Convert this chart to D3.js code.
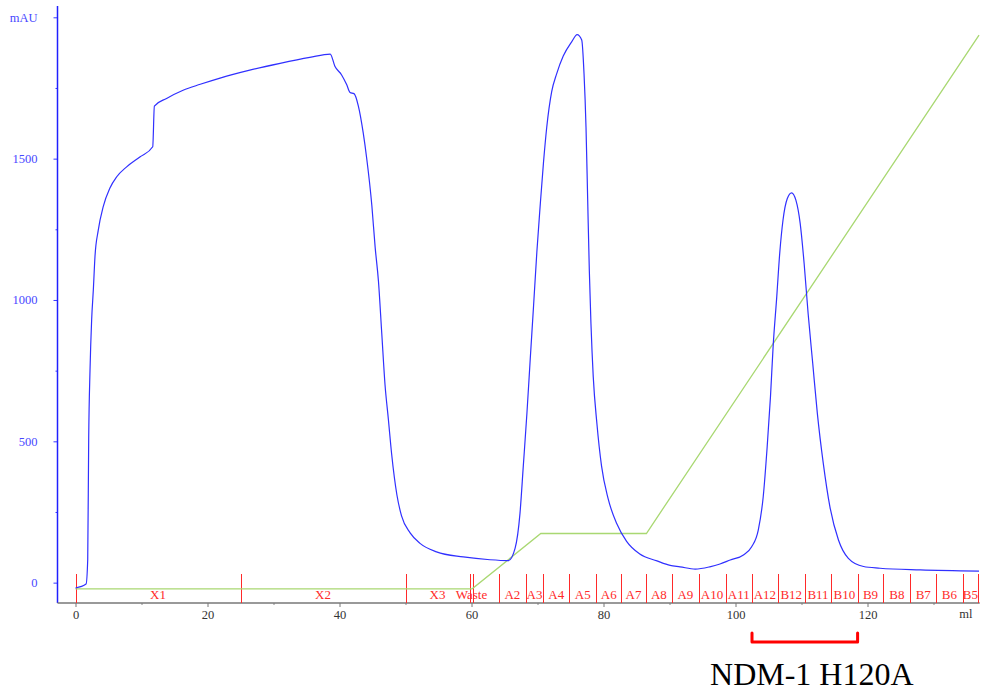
<!DOCTYPE html>
<html>
<head>
<meta charset="utf-8">
<script src="https://cdn.jsdelivr.net/npm/d3@7"></script>
<style>
  html, body { margin: 0; padding: 0; background: #fff; }
  svg { display: block; }
  svg text { font-family: "Liberation Serif", "Times New Roman", serif; }
</style>
</head>
<body>
<div id="chart"></div>
<script>
// UV 280 trace (ml, mAU)
const uvVolume = [0, 1.6, 1.85, 2.0, 2.2, 2.45, 2.7, 2.95, 3.45, 4.2, 5.2, 6.25, 7.75, 9.75, 11.7, 11.95,
  13.8, 16.3, 18.9, 21.9, 26.4, 31.0, 35.5, 38.6, 39.3, 40.3, 41.1, 41.6, 42.2, 42.85, 43.6, 44.1, 44.9,
  45.4, 45.9, 46.4, 46.9, 47.4, 47.9, 48.7, 49.4, 50.7, 52.2, 54.7, 58.75, 62.8, 65.6, 66.6, 67.35, 67.85,
  68.4, 68.9, 69.4, 69.9, 70.4, 70.9, 71.4, 72.15, 72.9, 73.9, 75.2, 76.0, 76.7, 77.05, 77.35, 77.6, 77.85,
  78.1, 78.45, 79.0, 79.7, 80.7, 82.0, 83.5, 85.5, 88.1, 90.1, 91.6, 93.9, 96.1, 97.65, 99.2, 101.2, 102.45,
  103.45, 104.2, 104.8, 105.3, 105.7, 106.25, 106.7, 107.2, 107.85, 108.5, 109.15, 109.8, 110.4, 111.0,
  111.7, 112.4, 113.3, 114.3, 115.6, 117.1, 119.4, 121.9, 128, 136.9]
const uvAbsorbance = [-19, -5, 80, 512, 752, 932, 1035, 1153, 1247, 1330, 1395, 1436, 1471, 1506, 1542, 1686,
  1713, 1742, 1763, 1785, 1813, 1837, 1858, 1870, 1827, 1797, 1761, 1734, 1730, 1687, 1590, 1505, 1334,
  1187, 1067, 883, 699, 579, 455, 310, 236, 176, 139, 109, 91, 81, 78, 121, 246, 413,
  600, 791, 978, 1169, 1332, 1484, 1611, 1737, 1800, 1863, 1914, 1939, 1920, 1800, 1611, 1358, 1106,
  916, 727, 563, 413, 297, 209, 146, 101, 77, 61, 56, 48, 56, 66, 80, 98, 127,
  186, 304, 481, 658, 835, 1011, 1165, 1283, 1359, 1379, 1353, 1271, 1129, 953,
  776, 599, 422, 269, 151, 86, 57, 51, 45, 41]

// gradient (%B)
const gradVolume = [0, 60.1, 70.5, 86.5, 136.9]
const gradPercentB = [0, 0, 10, 10, 100]

// fractions
const fractionBounds = [0, 25, 50, 59.7, 60.3, 64.2, 68.2, 70.9, 74.8, 78.9, 82.7, 86.4, 90.4, 94.4, 98.5,
  102.5, 106.4, 110.5, 114.5, 118.5, 122.4, 126.5, 130.4, 134.4, 136.8]
const fractionLabels = ['X1', 'X2', 'X3', 'Waste', '', 'A2', 'A3', 'A4', 'A5', 'A6', 'A7', 'A8', 'A9', 'A10',
  'A11', 'A12', 'B12', 'B11', 'B10', 'B9', 'B8', 'B7', 'B6', 'B5']

const xTicks = [0, 20, 40, 60, 80, 100, 120]
const xMinorTicks = [10, 30, 50, 70, 90, 110, 130]
const yTicks = [0, 500, 1000, 1500, 2000]
const yMinorTicks = [250, 750, 1250, 1750]

const bracketRange = [102.5, 118.5]
const bracketLabel = 'NDM-1 H120A'

const width = 994, height = 694
const serif = '"Liberation Serif", "Times New Roman", serif'

const svg = d3.select('#chart').append('svg')
  .attr('width', width)
  .attr('height', height)
  .attr('viewBox', `0 0 ${width} ${height}`)

const x = d3.scaleLinear().domain([0, 137]).range([75.5, 979.7])
const y = d3.scaleLinear().domain([-72, 2040]).range([603, 6])
// %B sits on its own scale, 0 % just under the baseline
const yB = d3.scaleLinear().domain([0, 100]).range([y(-22), y(1937)])

// y axis
const yAxis = svg.append('g').attr('transform', `translate(${x.range()[0] - 18},0)`)
yAxis.call(d3.axisLeft(y).tickValues(yTicks).tickSize(4).tickPadding(16)
  .tickFormat(d => d === 2000 ? 'mAU' : d))
yAxis.attr('font-family', serif).attr('font-size', 12.5)
yAxis.call(g => g.select('.domain').remove())
yAxis.selectAll('line').attr('stroke', '#3a3aff')
yAxis.selectAll('text').attr('fill', '#4848ff')
yAxis.append('g').call(d3.axisLeft(y).tickValues(yMinorTicks).tickSize(2).tickFormat(''))
  .call(g => g.select('.domain').remove())
  .selectAll('line').attr('stroke', '#3a3aff')
yAxis.append('line')
  .attr('x1', 0).attr('x2', 0)
  .attr('y1', y.range()[1]).attr('y2', y.range()[0])
  .attr('stroke', '#2020ff').attr('stroke-width', 1.5)

// x axis
const xAxis = svg.append('g').attr('transform', `translate(0,${y.range()[0]})`)
xAxis.call(d3.axisBottom(x).tickValues(xTicks).tickSize(4).tickPadding(3))
xAxis.attr('font-family', serif).attr('font-size', 12.5)
xAxis.call(g => g.select('.domain').remove())
xAxis.selectAll('line').attr('stroke', '#777')
xAxis.selectAll('text').attr('fill', '#333')
xAxis.append('g').call(d3.axisBottom(x).tickValues(xMinorTicks).tickSize(2).tickFormat(''))
  .call(g => g.select('.domain').remove())
  .selectAll('line').attr('stroke', '#888')
xAxis.append('line')
  .attr('x1', x.range()[0] - 18).attr('x2', x(137))
  .attr('stroke', '#777').attr('stroke-width', 1.5)
xAxis.append('text')
  .attr('x', x(134.9)).attr('y', 15)
  .attr('text-anchor', 'middle')
  .attr('fill', '#333')
  .text('ml')

// fractions
const fracs = svg.append('g').attr('class', 'fractions')
fracs.selectAll('line.frac')
  .data(fractionBounds)
  .join('line')
  .attr('class', 'frac')
  .attr('x1', d => Math.round(x(d)) + 0.5).attr('x2', d => Math.round(x(d)) + 0.5)
  .attr('y1', y.range()[0] - 29).attr('y2', y.range()[0])
  .style('stroke', '#ff2a2a').style('stroke-width', 1)
  .attr('shape-rendering', 'crispEdges')
fracs.selectAll('text.frac')
  .data(fractionLabels)
  .join('text')
  .attr('class', 'frac')
  .attr('x', (d, i) => x((fractionBounds[i] + fractionBounds[i + 1]) / 2))
  .attr('y', y.range()[0] - 4)
  .attr('text-anchor', 'middle')
  .attr('font-size', 13)
  .attr('fill', '#ff2a2a')
  .text(d => d)

// gradient line
const gradData = gradVolume.map((v, i) => [v, gradPercentB[i]])
svg.append('path')
  .datum(gradData)
  .attr('fill', 'none')
  .attr('stroke', '#a9d872')
  .attr('stroke-width', 1.3)
  .attr('d', d3.line().x(d => x(d[0])).y(d => yB(d[1])))

// UV trace
const uvData = uvVolume.map((v, i) => [v, uvAbsorbance[i]])
svg.append('path')
  .datum(uvData)
  .attr('fill', 'none')
  .attr('stroke', '#3030ff')
  .attr('stroke-width', 1.2)
  .attr('d', d3.line().curve(d3.curveMonotoneX).x(d => x(d[0])).y(d => y(d[1])))

// pooled fractions bracket
const bx0 = x(bracketRange[0]), bx1 = x(bracketRange[1])
const by0 = y.range()[0] + 30, by1 = y.range()[0] + 39
svg.append('path')
  .attr('d', `M${bx0},${by0} L${bx0},${by1} L${bx1},${by1} L${bx1},${by0}`)
  .attr('fill', 'none')
  .attr('stroke', '#ff0000')
  .attr('stroke-width', 3)
  .attr('stroke-linejoin', 'round')
  .attr('stroke-linecap', 'round')
svg.append('text')
  .attr('x', (bx0 + bx1) / 2 + 7)
  .attr('y', 685)
  .attr('text-anchor', 'middle')
  .attr('font-size', 32)
  .attr('fill', '#000')
  .text(bracketLabel)
</script>
</body>
</html>
